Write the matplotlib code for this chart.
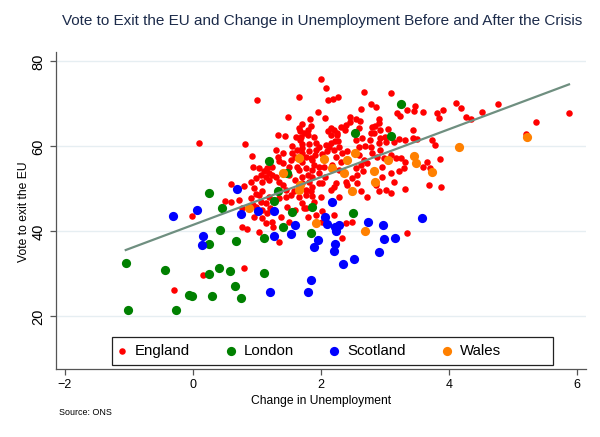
import numpy as np
import matplotlib
matplotlib.use('Agg')
import matplotlib.pyplot as plt
from matplotlib.patches import Rectangle

plt.rcParams['font.family'] = ['Liberation Sans', 'DejaVu Sans']

# England (local authority districts outside London)
england_x = [2.00, 2.08, 1.66, 1.00, 2.27, 2.19, 2.11, 2.67, 2.62, 1.95,
             1.48, 1.83, 2.06, 2.45, 2.55, 2.45, 1.71, 1.85, 1.65, 1.79,
             1.67, 1.73, 1.69, 1.61, 1.79, 2.15, 2.11, 2.15, 2.25, 2.39,
             2.375, 1.33, 1.44, 2.78, 2.86, 3.09, 3.47, 3.45, 3.59, 3.19,
             3.23, 3.35, 2.61, 2.59, 2.91, 2.90, 2.84, 2.93, 2.83, 2.79,
             3.05, 3.44, 2.78, 2.20, 2.31, 2.25, 1.89, 4.11, 4.19, 4.76,
             4.51, 4.26, 4.35, 5.36, 5.875, 5.20, 3.91, 3.82, 3.84, 3.50,
             0.82, 0.92, 1.55, 1.63, 1.71, 1.81, 1.92, 1.97, 2.08, 2.15,
             2.22, 2.27, 2.125, 2.20, 2.28, 2.41, 2.54, 2.59, 2.69, 1.71,
             1.81, 1.93, 2.02, 1.60, 1.84, 1.91, 1.40, 1.29, 1.33, 2.64,
             3.00, 3.02, 2.93, 2.91, 3.22, 3.31, 3.14, 3.44, 2.76, 1.68,
             2.10, 1.71, 1.76, 2.59, 2.67, 2.62, 2.54, 2.57, 2.72, 2.65,
             2.49, 2.28, 2.18, 2.31, 2.78, 2.80, 2.93, 2.88, 2.98, 2.95,
             3.10, 3.17, 3.25, 3.32, 3.30, 3.65, 3.59, 3.22, 3.09, 3.14,
             2.95, 3.01, 2.91, 3.32, 2.72, 2.28, 2.15, 2.02, 1.86, 1.86,
             1.71, 1.76, 1.97, 1.97, 1.86, 1.76, 1.71, 1.86, 2.05, 2.57,
             2.62, 2.39, 3.86, 3.87, 3.74, 3.78, 3.70, 0.59, 0.80, 0.90,
             0.98, 1.06, 1.11, 1.16, 1.03, 1.08, 1.19, 1.29, 1.34, 1.40,
             1.45, 1.53, 1.60, 1.58, 1.45, 1.34, 1.19, 1.08, 0.95, 0.90,
             0.98, 1.08, 1.16, 1.47, 1.60, 1.71, 1.76, 1.73, 1.50, 1.53,
             1.63, 1.79, 0.94, 1.55, 2.23, 2.33, 1.19, 1.89, 1.86, 2.07,
             2.23, 2.41, 1.97, 1.84, 2.00, 0.95, 1.14, 1.24, 0.77, 0.85,
             1.03, 1.34, 1.50, 1.76, 1.92, 1.79, 2.33, 2.39, 2.48, 0.50,
             0.60, -0.02, 1.25, 1.38, 0.80, 0.15, -0.29, 0.98, 1.06, 1.14,
             1.21, 1.66, 1.89, 2.02, 1.08, 0.77, 0.72, 0.94, 1.03, 2.20,
             2.86, 3.09, 3.69, 2.21, 2.02, 3.35, 0.10,
             1.24, 1.34, 1.40, 1.66, 1.14, 1.24, 1.50, 1.71, 1.81]
england_y = [75.9, 73.8, 71.7, 71.0, 71.7, 71.1, 70.9, 72.9, 68.8, 68.0,
             66.8, 66.5, 66.6, 67.0, 66.4, 65.8, 65.3, 64.9, 64.3, 63.9,
             63.5, 63.1, 62.3, 62.2, 62.7, 64.4, 63.5, 62.7, 63.25, 65.1,
             63.9, 62.6, 62.5, 70.0, 69.2, 72.5, 69.5, 68.35, 68.0, 67.8,
             67.2, 68.6, 66.0, 64.3, 66.4, 65.5, 64.7, 63.9, 63.25, 64.5,
             64.0, 63.9, 63.1, 63.9, 64.5, 62.7, 62.3, 70.2, 69.1, 69.9,
             68.0, 66.9, 66.4, 65.7, 67.8, 62.9, 68.6, 67.8, 66.6, 61.8,
             60.5, 57.8, 60.2, 59.2, 60.5, 60.6, 60.75, 59.95, 60.35, 60.9,
             61.3, 61.3, 59.8, 59.2, 59.8, 59.0, 61.5, 59.95, 60.1, 58.4,
             58.8, 59.2, 58.2, 57.6, 57.2, 58.0, 58.4, 59.2, 57.6, 62.0,
             62.1, 61.1, 61.9, 60.9, 61.7, 61.5, 61.0, 62.0, 61.4, 61.5,
             58.8, 59.6, 57.6, 58.0, 56.8, 55.65, 54.9, 53.3, 56.0, 54.1,
             52.5, 54.5, 55.65, 56.4, 59.95, 58.4, 59.2, 57.6, 57.2, 55.25,
             58.0, 57.2, 57.2, 56.4, 54.9, 56.4, 55.25, 54.2, 53.7, 51.7,
             52.75, 49.8, 49.4, 49.9, 48.05, 48.2, 49.8, 51.3, 50.5, 48.35,
             51.3, 49.8, 53.7, 55.25, 54.5, 54.9, 56.4, 56.8, 55.25, 51.3,
             49.4, 51.7, 57.0, 50.5, 61.5, 60.35, 54.9, 51.1, 50.7, 51.7,
             52.5, 53.3, 54.1, 54.9, 54.9, 51.7, 52.1, 52.9, 51.7, 50.9,
             49.8, 48.6, 52.1, 49.4, 48.2, 47.8, 48.2, 49.4, 50.2, 47.8,
             45.8, 45.1, 44.3, 45.8, 45.1, 46.6, 48.6, 45.5, 55.25, 56.8,
             55.25, 53.3, 55.25, 58.4, 57.6, 58.4, 53.7, 55.65, 52.9, 52.9,
             51.3, 50.9, 51.3, 49.4, 48.2, 43.5, 41.9, 42.3, 41.1, 40.6,
             39.95, 37.6, 42.3, 45.6, 43.9, 43.5, 38.4, 41.9, 42.3, 47.25,
             47.0, 43.6, 41.1, 43.3, 31.5, 29.8, 26.2, 48.75, 47.0, 46.6,
             45.5, 48.0, 47.0, 44.7, 43.1, 45.5, 47.4, 46.2, 48.6, 50.5,
             50.9, 49.0, 50.8, 43.9, 42.1, 39.7, 60.75,
             55.25, 56.6, 56.0, 54.5, 52.9, 53.3, 53.3, 52.9, 51.7]

# London boroughs
london_x = [0.245, 0.45, 1.27, 1.55, 1.86, 0.42, 0.255, 0.67, 1.11, 1.40,
            1.85, -1.05, -0.44, 0.245, 0.41, 0.58, 1.11, 0.65, -0.06, -0.02,
            0.30, 0.75, -1.02, -0.26, 2.50, 1.19, 1.47, 1.33, 3.25, 2.53, 3.10]
london_y = [49.0, 45.5, 47.2, 44.5, 45.8, 40.4, 37.1, 37.8, 38.5, 41.0,
            39.6, 32.5, 30.9, 30.0, 31.3, 30.7, 30.1, 27.25, 25.1, 24.7,
            24.8, 24.4, 21.5, 21.4, 44.3, 56.6, 53.8, 49.4, 69.9, 63.25, 62.5]

# Scottish council areas
scotland_x = [0.69, -0.31, 0.07, 0.755, 1.02, 1.27, 0.15, 0.14, 1.59, 1.53,
              1.27, 2.06, 2.10, 1.96, 1.89, 1.84, 1.79, 1.20, 2.18, 2.22,
              2.28, 2.24, 2.74, 2.97, 3.58, 2.22, 2.21, 2.98, 3.15, 2.90,
              2.52, 2.34]
scotland_y = [50.0, 43.6, 45.1, 44.1, 44.8, 44.9, 39.0, 36.8, 41.5, 39.4,
              39.0, 43.3, 41.8, 38.0, 36.3, 28.6, 25.7, 25.7, 47.0, 41.1,
              41.4, 40.2, 42.2, 41.5, 43.2, 37.0, 35.4, 38.1, 38.4, 35.25,
              33.5, 32.4]

# Welsh unitary authorities
wales_x = [1.66, 2.04, 1.40, 1.67, 1.66, 0.88, 1.93, 2.18, 2.36, 2.41,
           2.53, 2.48, 3.05, 3.45, 3.49, 2.83, 2.84, 4.16, 5.22, 3.74, 2.69]
wales_y = [57.2, 57.0, 53.8, 50.9, 49.8, 45.5, 42.0, 54.9, 53.8, 56.7,
           58.4, 49.4, 56.7, 57.8, 56.2, 54.2, 51.65, 59.95, 62.2, 53.9, 40.1]

# linear fit over all areas
all_x = np.array(england_x + london_x + scotland_x + wales_x)
all_y = np.array(england_y + london_y + scotland_y + wales_y)
slope, intercept = np.polyfit(all_x, all_y, 1)

fig = plt.figure(figsize=(6, 4.37), dpi=100)
ax = fig.add_axes([0.0933, 0.1563, 0.8833, 0.7247])

ax.scatter(england_x, england_y, s=22, color='#ff0000', linewidths=0, label='England', zorder=3)
ax.scatter(london_x, london_y, s=44, color='#008000', linewidths=0, label='London', zorder=3)
ax.scatter(scotland_x, scotland_y, s=44, color='#0000ff', linewidths=0, label='Scotland', zorder=3)
ax.scatter(wales_x, wales_y, s=44, color='#ff8000', linewidths=0, label='Wales', zorder=3)

xs = np.array([all_x.min(), all_x.max()])
ax.plot(xs, intercept + slope * xs, color='#6f8f80', lw=1.6, zorder=4)

ax.set_xlim(-2.14, 6.14)
ax.set_ylim(7.7, 82.2)
ax.set_xticks([-2, 0, 2, 4, 6])
ax.set_xticklabels(['\u22122', '0', '2', '4', '6'])
ax.set_yticks([20, 40, 60, 80])
ax.grid(axis='y', color='#e6eef2', lw=1)
ax.set_axisbelow(True)
for side in ['top', 'right']:
    ax.spines[side].set_visible(False)
for side in ['left', 'bottom']:
    ax.spines[side].set_color('#555555')
    ax.spines[side].set_linewidth(0.9)
ax.tick_params(direction='out', length=4, width=0.9, color='#555555', labelsize=9)
ax.tick_params(axis='y', labelrotation=90)
for lab in ax.get_yticklabels():
    lab.set_verticalalignment('center')
    lab.set_fontsize(10.5)

ax.set_xlabel('Change in Unemployment', fontsize=8.7, labelpad=3)
fig.text(0.040, 0.516, 'Vote to exit the EU', rotation=90, ha='center', va='center', fontsize=8.7)
fig.text(0.537, 1 - 21 / 437, 'Vote to Exit the EU and Change in Unemployment Before and After the Crisis',
         ha='center', va='center', fontsize=11.0, color='#1c2b4a')
fig.text(0.098, 1 - 412.7 / 437, 'Source: ONS', ha='left', va='center', fontsize=6.4)

# legend box (wider than its entries, as in the original)
box = Rectangle((112 / 600, 1 - 365.3 / 437), 441 / 600, 28 / 437, transform=fig.transFigure,
                facecolor='white', edgecolor='#222222', lw=0.9, zorder=5)
fig.patches.append(box)
leg = fig.legend(*ax.get_legend_handles_labels(), loc='center left',
                 bbox_to_anchor=(117.5 / 600, 1 - 351.3 / 437), ncol=4, frameon=False,
                 fontsize=10.8, borderpad=0, borderaxespad=0, handlelength=0.6,
                 handletextpad=0.57, columnspacing=2.4, scatterpoints=1)
leg.set_zorder(6)

plt.savefig('out.png', dpi=100)
